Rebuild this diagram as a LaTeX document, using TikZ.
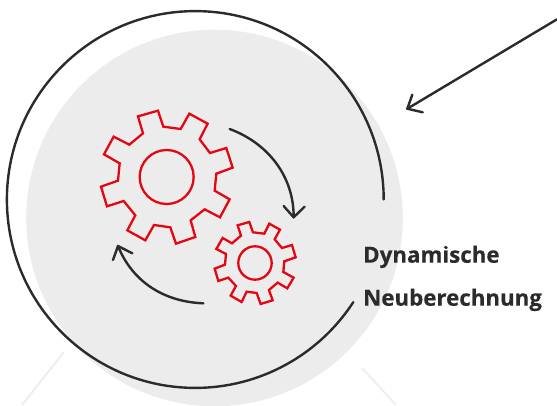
\documentclass[tikz,border=0pt]{standalone}
\usepackage{fontspec}
\setmainfont{Open Sans}[BoldFeatures={FakeBold=0.25}]
\definecolor{ink}{HTML}{2B2B2B}
\definecolor{gearred}{HTML}{E30613}
\definecolor{disc}{HTML}{ECECEC}
\definecolor{faint}{HTML}{EEEEEE}
\tikzset{
  ringline/.style={draw=ink,line width=2.4pt,line cap=round,line join=round},
  gearline/.style={draw=gearred,line width=2.3pt,line join=miter},
  faintline/.style={draw=faint,line width=2pt},
  label/.style={anchor=base west,inner sep=0pt,font=\fontsize{22.3pt}{26pt}\selectfont\bfseries,text=ink}
}
\begin{document}
\begin{tikzpicture}[x=1pt,y=-1pt]
\useasboundingbox (0,0) rectangle (557,405);
\clip (0,0) rectangle (557,405);
% background disc
\fill[disc] (214.5,218) circle [radius=188.3pt];
% faint lines
\coordinate (fa) at (64,352);
\coordinate (fb) at (22,405);
\coordinate (fc) at (362,368);
\coordinate (fd) at (396,405);
\draw[faintline] (fa) -- (fb);
\draw[faintline] (fc) -- (fd);
% ring
\draw[ringline] (383.7,199.5) arc [start angle=0,end angle=327,radius=188.4pt];
% long arrow
\coordinate (ls) at (557,19.3);
\coordinate (le) at (407.3,108.7);
\draw[ringline] (ls) -- (le);
\draw[ringline] (412.3,94.7) -- (le) -- (422.7,112.3);
% gears
\begin{scope}[shift={(90,100)},x=0.3333pt,y=-0.3333pt]
\draw[gearline] (204,32)--(220,80)--(272,87)--(298,41)--(353,71)--(329,118)--(360,159)--(409,144)--(428,203)--(379,221)--(374,272)--(419,298)--(390,352)--(344,328)--(302,361)--(316,411)--(258,431)--(241,382)--(192,375)--(166,421)--(112,391)--(136,346)--(101,303)--(51,319)--(33,260)--(84,242)--(89,190)--(42,163)--(71,110)--(118,134)--(159,100)--(144,49)--cycle;
\draw[gearline] (230,231) circle [radius=27pt];
\draw[gearline] (478,366)--(489,397)--(523,401)--(538,371)--(570,389)--(554,418)--(576,444)--(606,435)--(617,472)--(583,484)--(580,516)--(611,533)--(592,565)--(563,548)--(537,570)--(548,601)--(512,612)--(500,579)--(470,575)--(455,606)--(422,587)--(438,558)--(415,533)--(385,543)--(374,506)--(405,494)--(408,462)--(379,447)--(398,414)--(426,430)--(453,407)--(443,376)--cycle;
\draw[gearline] (495,489) circle [radius=16.7pt];
% cycle arrows
\draw[ringline] (419,87) .. controls (535,130) and (612,230) .. (611,352);
\draw[ringline] (581,318) -- (611,352) -- (644,320);
\draw[ringline] (340,610) .. controls (215,605) and (125,540) .. (84,438);
\draw[ringline] (69,480) -- (84,438) -- (127,460);
\end{scope}
% labels
\node[label] (l1) at (363,262.7) {Dynamische};
\node[label] (l2) at (363,305.7) {Neuberechnung};
\end{tikzpicture}
\end{document}
